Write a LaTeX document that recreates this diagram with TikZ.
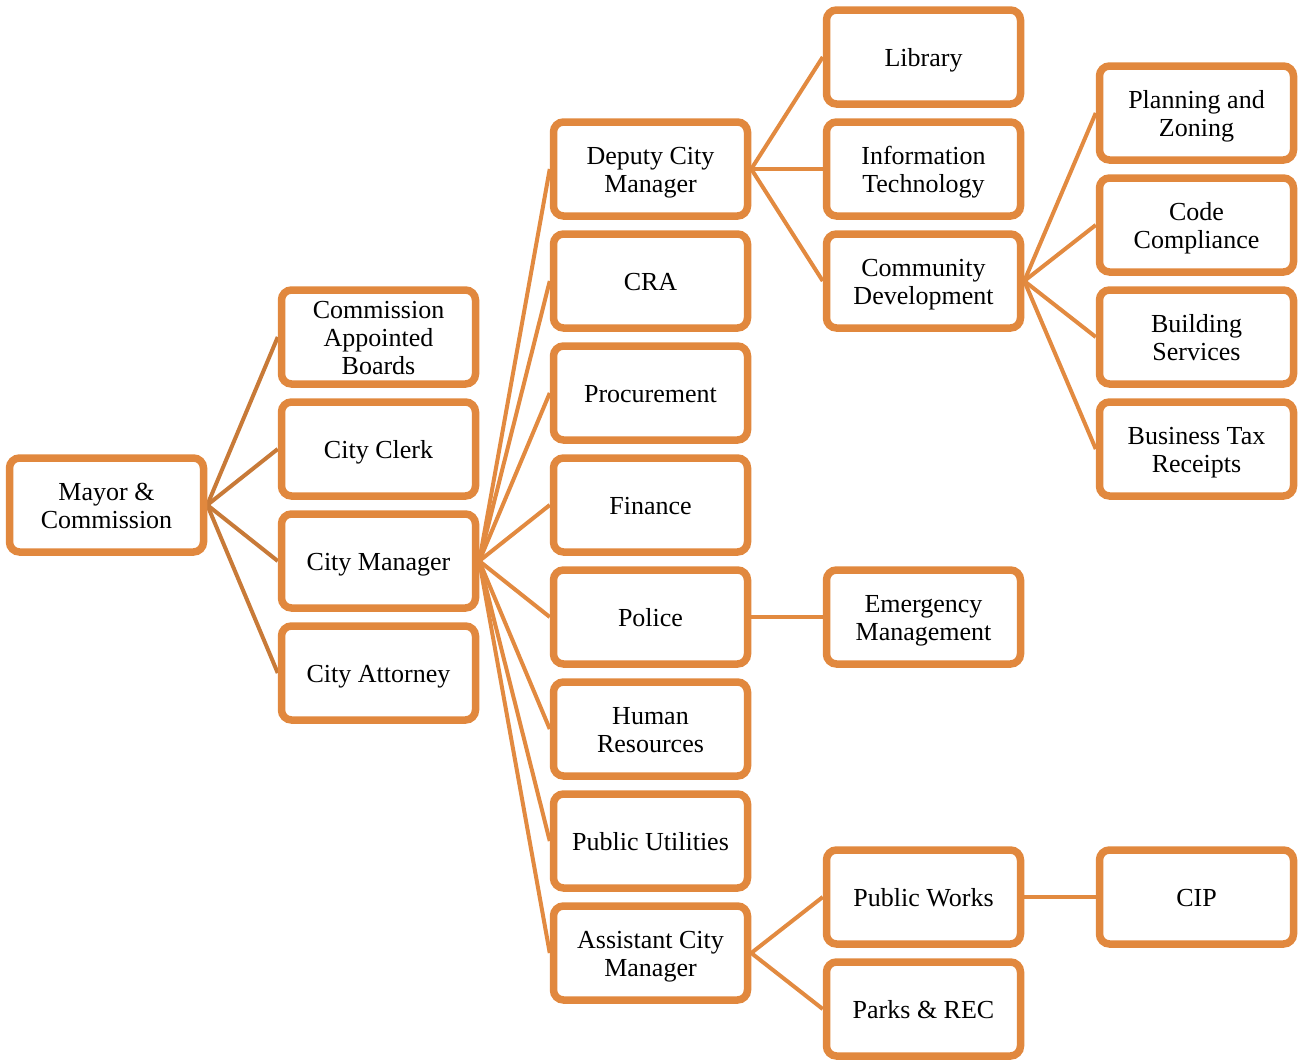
\documentclass[tikz,border=0pt]{standalone}
\usepackage{fontspec}
\setmainfont{Liberation Serif}
\usetikzlibrary{shadows,backgrounds}
\definecolor{boxc}{RGB}{225,136,62}
\definecolor{linkc}{RGB}{226,138,64}
\definecolor{mlinkc}{RGB}{200,122,56}
\newcommand\bxtext[1]{\raisebox{-4pt}[\height][\depth]{\begin{tabular}{@{}c@{}}#1\end{tabular}}}
\begin{document}
\begin{tikzpicture}[x=1pt,y=-1pt,
  box/.style={draw=boxc, line width=7.5pt, rounded corners=10pt, fill=white,
    minimum width=194pt, minimum height=94pt,
    font=\fontsize{26}{28}\selectfont, inner sep=0pt,
    drop shadow={shadow xshift=1.5pt, shadow yshift=-3pt, opacity=0.3, fill=black}},
  link/.style={draw=linkc, line width=4pt},
  mlink/.style={draw=mlinkc, line width=4pt}]
\useasboundingbox (0,0) rectangle (1303,1063);
% column 1
\node[box] (mayor) at (106.5,505) {\bxtext{Mayor \&\\Commission}};
% column 2
\node[box] (cab) at (378.5,337) {\bxtext{Commission\\Appointed\\Boards}};
\node[box] (clerk) at (378.5,449) {\bxtext{City Clerk}};
\node[box] (cm) at (378.5,561) {\bxtext{City Manager}};
\node[box] (att) at (378.5,673) {\bxtext{City Attorney}};
% column 3
\node[box] (dcm) at (650.5,169) {\bxtext{Deputy City\\Manager}};
\node[box] (cra) at (650.5,281) {\bxtext{CRA}};
\node[box] (proc) at (650.5,393) {\bxtext{Procurement}};
\node[box] (fin) at (650.5,505) {\bxtext{Finance}};
\node[box] (pol) at (650.5,617) {\bxtext{Police}};
\node[box] (hr) at (650.5,729) {\bxtext{Human\\Resources}};
\node[box] (pu) at (650.5,841) {\bxtext{Public Utilities}};
\node[box] (acm) at (650.5,953) {\bxtext{Assistant City\\Manager}};
% column 4
\node[box] (lib) at (923.5,57) {\bxtext{Library}};
\node[box] (it) at (923.5,169) {\bxtext{Information\\Technology}};
\node[box] (cd) at (923.5,281) {\bxtext{Community\\Development}};
\node[box] (em) at (923.5,617) {\bxtext{Emergency\\Management}};
\node[box] (pw) at (923.5,897) {\bxtext{Public Works}};
\node[box] (pr) at (923.5,1009) {\bxtext{Parks \& REC}};
% column 5
\node[box] (pz) at (1196.5,113) {\bxtext{Planning and\\Zoning}};
\node[box] (cc) at (1196.5,225) {\bxtext{Code\\Compliance}};
\node[box] (bs) at (1196.5,337) {\bxtext{Building\\Services}};
\node[box] (bt) at (1196.5,449) {\bxtext{Business Tax\\Receipts}};
\node[box] (cip) at (1196.5,897) {\bxtext{CIP}};
% connectors
\begin{scope}[on background layer]
\foreach \c in {cab,clerk,cm,att}
  \draw[mlink] (mayor.east) -- (\c.west);
\foreach \c in {dcm,cra,proc,fin,pol,hr,pu,acm}
  \draw[link] (cm.east) -- (\c.west);
\foreach \c in {lib,it,cd}
  \draw[link] (dcm.east) -- (\c.west);
\foreach \c in {pz,cc,bs,bt}
  \draw[link] (cd.east) -- (\c.west);
\draw[link] (pol.east) -- (em.west);
\foreach \c in {pw,pr}
  \draw[link] (acm.east) -- (\c.west);
\draw[link] (pw.east) -- (cip.west);
\end{scope}
\end{tikzpicture}
\end{document}
